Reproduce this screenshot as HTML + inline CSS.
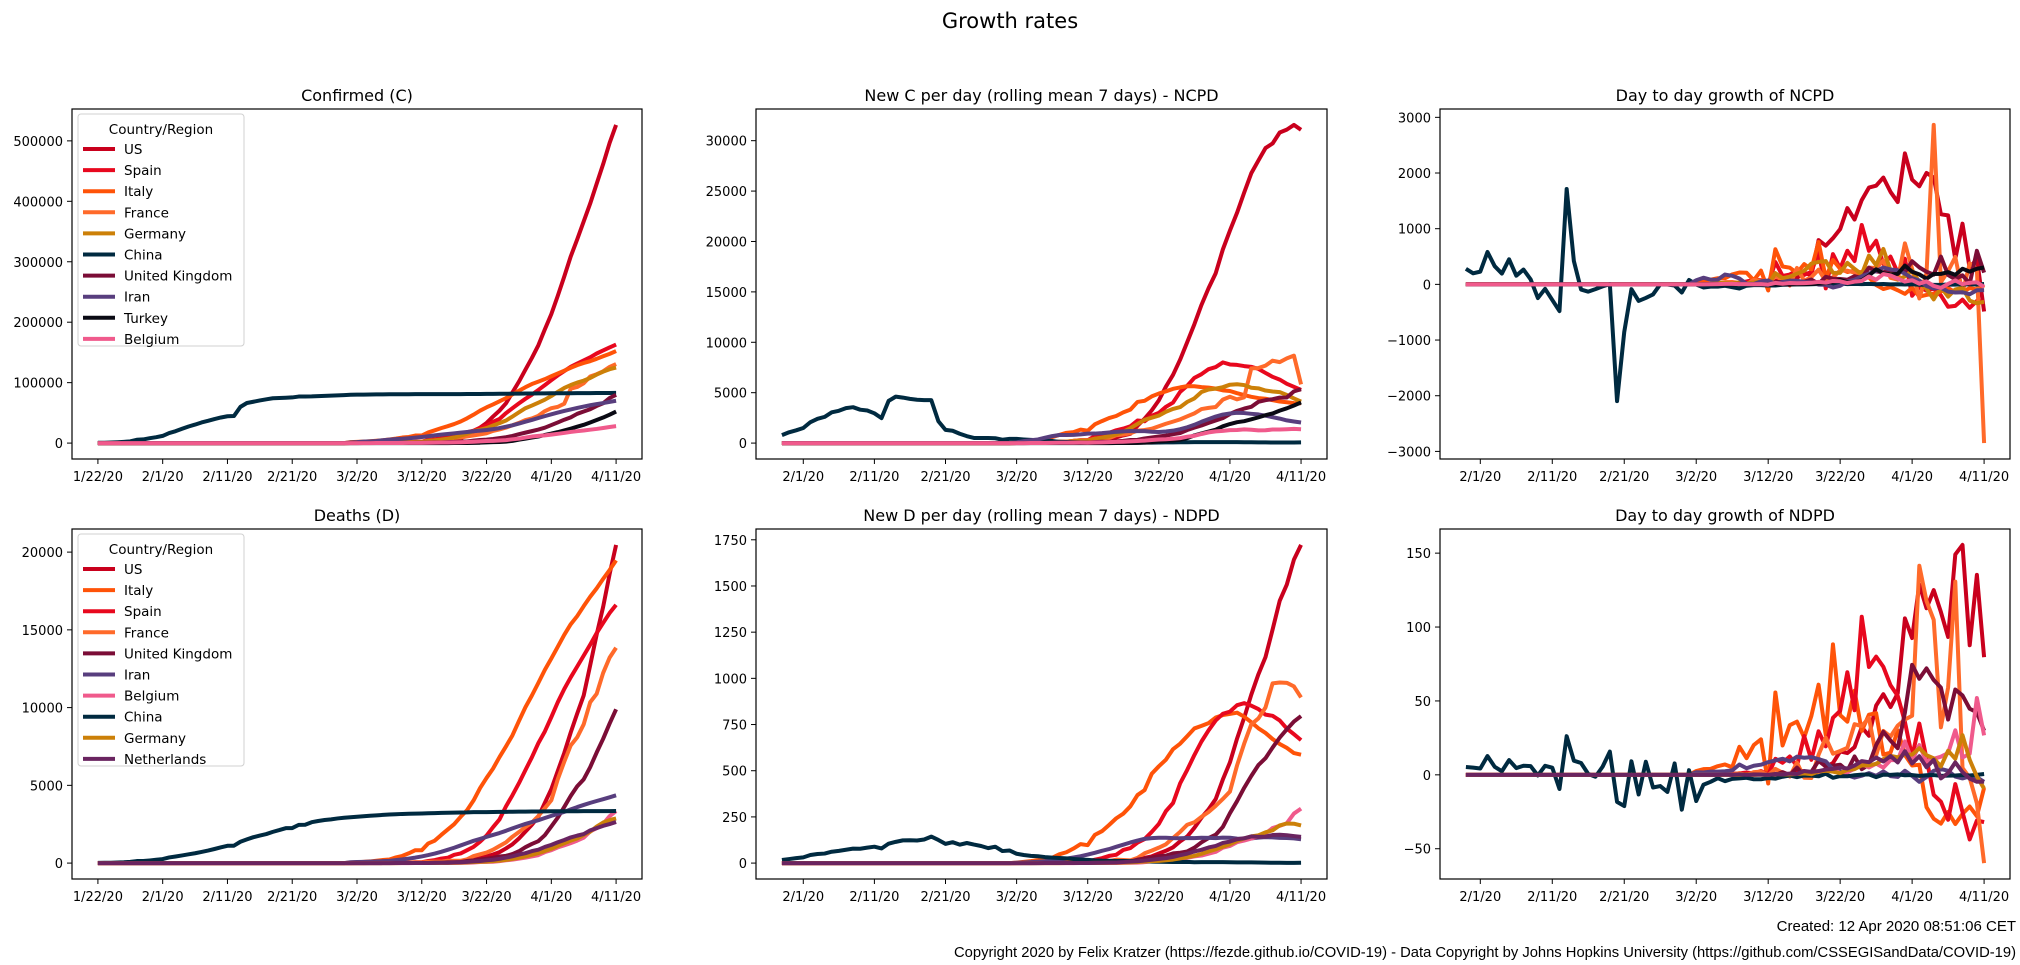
<!DOCTYPE html>
<html><head><meta charset="utf-8"><title>Growth rates</title>
<style>
html,body{margin:0;padding:0;background:#fff;}
svg{display:block;font-family:"DejaVu Sans","Liberation Sans",sans-serif;}
</style></head>
<body>
<svg id="fig" width="2020" height="965" viewBox="0 0 2020 965" xmlns="http://www.w3.org/2000/svg">
<rect width="2020" height="965" fill="#fff"/>
<text x="1010" y="28" text-anchor="middle" font-size="21" fill="#000">Growth rates</text>
<text x="2016" y="931" text-anchor="end" font-size="15" font-family="Liberation Sans, sans-serif" fill="#000">Created: 12 Apr 2020 08:51:06 CET</text>
<text x="2016" y="957" text-anchor="end" font-size="15" textLength="1062" lengthAdjust="spacingAndGlyphs" font-family="Liberation Sans, sans-serif" fill="#000">Copyright 2020 by Felix Kratzer (https://fezde.github.io/COVID-19) - Data Copyright by Johns Hopkins University (https://github.com/CSSEGISandData/COVID-19)</text>
</svg>
<script>
const N = 81;
const MARCH1 = 39;
const xTickIdx = [0,10,20,30,40,50,60,70,80];
const xTickLabels = ['1/22/20','2/1/20','2/11/20','2/21/20','3/2/20','3/12/20','3/22/20','4/1/20','4/11/20'];

const chinaC = [548,643,920,1406,2075,2877,5509,6087,8141,9802,
11891,16630,19716,23707,27440,30587,34110,36814,39829,42354,
44386,44759,59895,66358,68413,70513,72434,74211,74619,75077,
75550,77001,77022,77241,77754,78166,78600,78928,79356,
79932,80136,80261,80386,80537,80690,80770,80823,80860,80887,80921,80932,80945,80977,81003,81033,81058,81102,81156,81250,81305,81435,81498,81591,81661,81782,81897,81999,82122,82198,82279,
82361,82432,82511,82543,82602,82665,82718,82809,82883,82941,83014];
const usC = [75,100,124,158,221,319,435,541,704,994,1301,1630,2183,2770,3613,4596,6344,7786,13680,19101,25493,33276,43847,53740,65778,83836,101657,121478,140886,161807,188172,213372,243762,275586,308853,337072,366667,396223,429052,461437,496535,526396];
const spainC = [84,120,165,222,259,400,500,673,1073,1695,2277,2277,5232,6391,7798,9942,11748,13910,17963,20410,25374,28768,35136,39885,49515,57786,65719,73235,80110,87956,95923,104118,112065,119199,126168,131646,136675,141942,148220,153222,158273,163027];
const italyC = [1694,2036,2502,3089,3858,4636,5883,7375,9172,10149,12462,12462,17660,21157,24747,27980,31506,35713,41035,47021,53578,59138,63927,69176,74386,80589,86498,92472,97689,101739,105792,110574,115242,119827,124632,128948,132547,135586,139422,143626,147577,152271];
const franceC = [130,191,204,288,380,656,959,1136,1219,1794,2293,2293,3681,4496,4532,6683,7715,9124,10970,12758,14463,16243,20123,22622,25600,29551,33402,38105,40708,45170,52827,57749,59929,65202,89953,92839,98963,110065,113959,118781,125931,130727];
const germanyC = [130,159,196,262,482,670,799,1040,1176,1457,1908,2078,3675,4585,5795,7272,9257,12327,15320,19848,22213,24873,29056,32986,37323,43938,50871,57695,62095,66885,71808,77872,84794,91159,96092,100123,103374,107663,113296,118181,122171,124908];
const ukC = [36,40,51,86,116,164,207,274,322,384,459,459,802,1144,1145,1551,1960,2642,2716,4014,5067,5741,6726,8164,9640,11812,14745,17312,19780,22453,25481,29865,34173,38689,42477,48436,52279,55949,61474,65872,74605,79874];
const iranC = [978,1501,2336,2922,3513,4747,5823,6566,7161,8042,9000,10075,11364,12729,13938,14991,16169,17361,18407,19644,20610,21638,23049,24811,27017,29406,32332,35408,38309,41495,44605,47593,50468,53183,55743,58226,60500,62589,64586,66220,68192,70029];
const turkeyC = [0,0,0,0,0,0,0,0,0,0,1,1,5,5,6,18,47,98,192,359,670,1236,1529,1872,2433,3629,5698,7402,9217,10827,13531,15679,18135,20921,23934,27069,30217,34109,38226,42282,47029,52167];
const belgiumC = [2,8,13,23,50,109,169,200,239,267,314,314,559,689,886,1058,1243,1486,1795,2257,2815,3401,3743,4269,4937,6235,7284,9134,10836,11899,12775,13964,15348,16770,18431,19691,20814,22194,23403,24983,26667,28018];

const chinaD = [17,18,26,42,56,82,131,133,171,213,
259,362,426,492,564,634,719,806,906,1013,
1113,1118,1371,1523,1666,1770,1868,2007,2122,2247,
2251,2458,2469,2629,2708,2770,2814,2872,2914,
2947,2983,3015,3044,3072,3100,3123,3139,3161,3172,3180,3193,3203,3217,3230,3241,3249,3253,3259,3274,3274,3281,3285,3291,3296,3304,3308,3309,3316,3322,3326,
3330,3333,3335,3335,3337,3339,3340,3343,3343,3345,3349];
const usD = [1,6,7,11,12,14,17,21,22,28,36,40,47,54,63,85,108,118,200,244,307,427,552,706,942,1209,1581,2026,2467,2978,3873,4757,5926,7087,8407,9619,10783,12722,14695,16478,18586,20463];
const italyD = [34,52,79,107,148,197,233,366,463,631,827,827,1266,1441,1809,2158,2503,2978,3405,4032,4825,5476,6077,6820,7503,8215,9134,10023,10779,11591,12428,13155,13915,14681,15362,15887,16523,17127,17669,18279,18849,19468];
const spainD = [0,0,1,2,3,5,10,17,28,35,54,55,133,195,289,342,533,623,830,1043,1375,1772,2311,2808,3647,4365,5138,5982,6803,7716,8464,9387,10348,11198,11947,12641,13341,14045,14792,15447,16081,16606];
const franceD = [2,3,4,4,6,9,11,19,19,33,48,48,79,91,91,149,149,149,244,451,563,676,862,1102,1333,1698,1997,2317,2611,3030,3532,4043,5398,6520,7574,8093,8926,10343,10887,12228,13215,13851];
const ukD = [0,0,0,0,1,2,2,3,4,6,8,8,8,21,21,56,56,72,138,178,234,282,336,423,466,580,761,1021,1231,1411,1793,2357,2926,3611,4320,4943,5385,6171,7111,7993,8974,9892];
const iranD = [54,66,77,92,107,124,145,194,237,291,354,429,514,611,724,853,988,1135,1284,1433,1556,1685,1812,1934,2077,2234,2378,2517,2640,2757,2898,3036,3160,3294,3452,3603,3739,3872,3993,4110,4232,4357];
const belgiumD = [0,0,0,0,0,0,0,0,0,0,3,3,3,4,4,5,10,14,21,37,67,75,88,122,178,220,289,353,431,513,705,828,1011,1143,1283,1447,1632,2035,2240,2523,3019,3346];
const germanyD = [0,0,0,0,0,0,0,0,2,2,3,3,7,9,11,17,24,28,44,67,84,94,123,157,206,267,342,433,533,645,775,920,1107,1275,1444,1584,1810,2016,2349,2607,2767,2871];
const netherlandsD = [0,0,0,0,0,1,1,3,3,4,5,5,10,12,20,24,43,58,76,106,136,179,213,276,356,434,546,639,771,864,1039,1173,1339,1487,1651,1766,1867,2101,2248,2396,2511,2643];

const confNames = ['US','Spain','Italy','France','Germany','China','United Kingdom','Iran','Turkey','Belgium'];
const deathNames = ['US','Italy','Spain','France','United Kingdom','Iran','Belgium','China','Germany','Netherlands'];

const yTicksC = [0,100000,200000,300000,400000,500000];
const yTicksNCPD = [0,5000,10000,15000,20000,25000,30000];
const yTicksGC = [-3000,-2000,-1000,0,1000,2000,3000];
const yTicksD = [0,5000,10000,15000,20000];
const yTicksNDPD = [0,250,500,750,1000,1250,1500,1750];
const yTicksGD = [-50,0,50,100,150];

const COLORS = {'US':'#c9001d','Spain':'#e8081e','Italy':'#ff5308','France':'#ff6a2a','Germany':'#cc8008','China':'#002a40','United Kingdom':'#7b0d36','Iran':'#583e7e','Turkey':'#0a0a14','Belgium':'#f05a8c','Netherlands':'#6a2460'};

const SVGNS = 'http://www.w3.org/2000/svg';
const fig = document.getElementById('fig');
function mk(tag, attrs, parent){
  const e = document.createElementNS(SVGNS, tag);
  for (const k in attrs) e.setAttribute(k, attrs[k]);
  (parent||fig).appendChild(e);
  return e;
}
function full(arr, start){
  const out = [];
  for (let i=0;i<N;i++) out.push(i<start ? 0 : arr[i-start]);
  return out;
}
function rolling(c, start){
  const d = [null];
  for (let i=1;i<N;i++) d.push(i<=start ? 0 : c[i]-c[i-1]);
  const r = [];
  for (let i=0;i<N;i++){
    if (i<7) { r.push(null); continue; }
    let s=0; for (let k=i-6;k<=i;k++) s+=d[k];
    r.push(s/7);
  }
  return r;
}
function growth(r){
  const g=[];
  for (let i=0;i<N;i++) g.push((r[i]===null||i===0||r[i-1]===null)?null:r[i]-r[i-1]);
  return g;
}
function fmt(v){ return v<0 ? '\u2212'+Math.abs(v) : String(v); }

const confRaw = {'US':[usC,MARCH1],'Spain':[spainC,MARCH1],'Italy':[italyC,MARCH1],'France':[franceC,MARCH1],'Germany':[germanyC,MARCH1],'China':[chinaC,0],'United Kingdom':[ukC,MARCH1],'Iran':[iranC,MARCH1],'Turkey':[turkeyC,MARCH1],'Belgium':[belgiumC,MARCH1]};
const deathRaw = {'US':[usD,MARCH1],'Italy':[italyD,MARCH1],'Spain':[spainD,MARCH1],'France':[franceD,MARCH1],'United Kingdom':[ukD,MARCH1],'Iran':[iranD,MARCH1],'Belgium':[belgiumD,MARCH1],'China':[chinaD,0],'Germany':[germanyD,MARCH1],'Netherlands':[netherlandsD,MARCH1]};

function build(names, raw){
  const c=[], r=[], g=[];
  names.forEach(n=>{
    const f = full(raw[n][0], raw[n][1]);
    const rr = rolling(f, raw[n][1]);
    c.push({name:n, v:f}); r.push({name:n, v:rr}); g.push({name:n, v:growth(rr)});
  });
  return [c,r,g];
}
const [sC, sNC, sGC] = build(confNames, confRaw);
const [sD, sND, sGD] = build(deathNames, deathRaw);

const COLS = [[72,642],[756,1327],[1440,2010]];
const ROWS = [[109,459],[529,879]];

function panel(key, col, row, title, series, yTicks, tickIdx, tickLabels, legend){
  const [x0,x1] = COLS[col], [y0,y1] = ROWS[row];
  const g = mk('g', {});
  
  
  let imin=N, imax=0, vmin=Infinity, vmax=-Infinity;
  series.forEach(s=>s.v.forEach((v,i)=>{ if(v!==null){ imin=Math.min(imin,i); imax=Math.max(imax,i); vmin=Math.min(vmin,v); vmax=Math.max(vmax,v);} }));
  const xr = imax-imin, xlo = imin-0.05*xr, xhi = imax+0.05*xr;
  const yr = vmax-vmin, ylo = vmin-0.05*yr, yhi = vmax+0.05*yr;
  const X = i => x0 + (i-xlo)/(xhi-xlo)*(x1-x0);
  const Y = v => y1 - (v-ylo)/(yhi-ylo)*(y1-y0);
  const t = mk('text', {x:(x0+x1)/2, y:y0-8, 'text-anchor':'middle', 'font-size':16, fill:'#000'}, g);
  
  
  t.textContent = title;
  tickIdx.forEach((ti,k)=>{
    const x = X(ti);
    const tl = mk('line', {x1:x, x2:x, y1:y1, y2:y1+5, stroke:'#000', 'stroke-width':1}, g);
    
    
    const tx = mk('text', {x:x, y:y1+22, 'text-anchor':'middle', 'font-size':13, fill:'#000'}, g);
    
    
    tx.textContent = tickLabels[k];
  });
  yTicks.forEach(v=>{
    if (v<ylo || v>yhi) return;
    const y = Y(v);
    const tl = mk('line', {x1:x0-5, x2:x0, y1:y, y2:y, stroke:'#000', 'stroke-width':1}, g);
    
    
    const tx = mk('text', {x:x0-9, y:y+5, 'text-anchor':'end', 'font-size':13, fill:'#000'}, g);
    
    
    tx.textContent = fmt(v);
  });
  const clipId = 'clip-'+key;
  const cp = mk('clipPath', {id:clipId}, g);
  mk('rect', {x:x0, y:y0, width:x1-x0, height:y1-y0}, cp);
  const lg = mk('g', {'clip-path':'url(#'+clipId+')'}, g);
  series.forEach(s=>{
    let d='';
    s.v.forEach((v,i)=>{ if(v===null) return; d += (d?'L':'M')+X(i).toFixed(2)+','+Y(v).toFixed(2); });
    const p = mk('path', {d:d, fill:'none', stroke:COLORS[s.name], 'stroke-width':4, 'stroke-linejoin':'round'}, lg);
    
    
  });
  const frame = mk('rect', {x:x0, y:y0, width:x1-x0, height:y1-y0, fill:'none', stroke:'#000', 'stroke-width':1.2}, g);
  
  
  if (legend){
    const lgg = mk('g', {}, g);
    
    
    const lx = x0+6, ly = y0+5;
    mk('rect', {x:lx, y:ly, width:166, height:232, rx:3, fill:'#fff', 'fill-opacity':0.8, stroke:'#d0d0d0', 'stroke-width':1}, lgg);
    const lt = mk('text', {x:lx+83, y:ly+20, 'text-anchor':'middle', 'font-size':13.5, fill:'#000'}, lgg);
    
    
    lt.textContent = 'Country/Region';
    series.forEach((s,k)=>{
      const yy = ly+35+21.1*k;
      const e = mk('g', {}, lgg);
      
      
      mk('line', {x1:lx+5, x2:lx+37, y1:yy, y2:yy, stroke:COLORS[s.name], 'stroke-width':4}, e);
      const et = mk('text', {x:lx+46, y:yy+5, 'font-size':13.5, fill:'#000'}, e);
      et.textContent = s.name;
    });
  }
}
const tIdx2 = xTickIdx.slice(1), tLab2 = xTickLabels.slice(1);
panel('confirmed', 0, 0, 'Confirmed (C)', sC, yTicksC, xTickIdx, xTickLabels, true);
panel('ncpd', 1, 0, 'New C per day (rolling mean 7 days) - NCPD', sNC, yTicksNCPD, tIdx2, tLab2, false);
panel('growth-ncpd', 2, 0, 'Day to day growth of NCPD', sGC, yTicksGC, tIdx2, tLab2, false);
panel('deaths', 0, 1, 'Deaths (D)', sD, yTicksD, xTickIdx, xTickLabels, true);
panel('ndpd', 1, 1, 'New D per day (rolling mean 7 days) - NDPD', sND, yTicksNDPD, tIdx2, tLab2, false);
panel('growth-ndpd', 2, 1, 'Day to day growth of NDPD', sGD, yTicksGD, tIdx2, tLab2, false);
</script>
</body></html>
